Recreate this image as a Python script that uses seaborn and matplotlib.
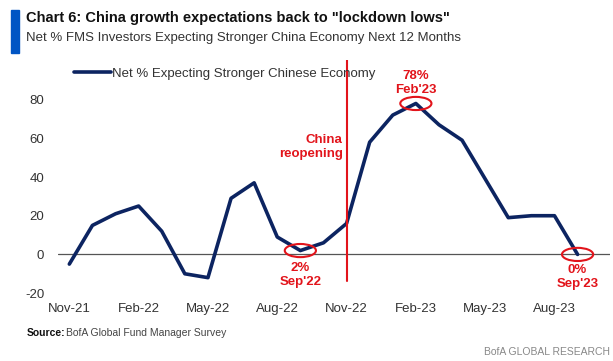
import numpy as np
import pandas as pd
import matplotlib.pyplot as plt
import seaborn as sns
from matplotlib.patches import Ellipse, Rectangle

# Data (monthly, Nov-21 .. Sep-23)
months = ['Nov-21', 'Dec-21', 'Jan-22', 'Feb-22', 'Mar-22', 'Apr-22', 'May-22', 'Jun-22',
          'Jul-22', 'Aug-22', 'Sep-22', 'Oct-22', 'Nov-22', 'Dec-22', 'Jan-23', 'Feb-23',
          'Mar-23', 'Apr-23', 'May-23', 'Jun-23', 'Jul-23', 'Aug-23', 'Sep-23']
net_pct = [-5, 15, 21, 25, 12, -10, -12, 29, 37, 9, 2, 6, 16, 58, 72, 78,
           67, 59, 39, 19, 20, 20, 0]
tick_labels = ['Nov-21', 'Feb-22', 'May-22', 'Aug-22', 'Nov-22', 'Feb-23', 'May-23', 'Aug-23']

df = pd.DataFrame({'month': months, 'pos': range(len(months)), 'value': net_pct})

navy = '#0C2461'
red = '#E2141B'

sns.set_style('white')
plt.rcParams['font.family'] = ['Liberation Sans', 'DejaVu Sans']
plt.rcParams['axes.unicode_minus'] = False

fig = plt.figure(figsize=(6.13, 3.61), dpi=100)
ax = fig.add_axes([0.095, 0.188, 0.9, 0.646])

sns.lineplot(data=df, x='pos', y='value', ax=ax, color=navy, linewidth=2.6,
             label='Net % Expecting Stronger Chinese Economy')

ax.axhline(0, color='#555555', linewidth=0.9, zorder=1)
ax.set_xlim(-0.48, 23.4)
ax.set_ylim(-20, 100.5)
ax.set_yticks([-20, 0, 20, 40, 60, 80])
ax.set_xticks([months.index(m) for m in tick_labels])
ax.set_xticklabels(tick_labels)
ax.tick_params(axis='both', labelsize=9.5, colors='#333333', length=0)
ax.tick_params(axis='x', pad=7)
ax.tick_params(axis='y', pad=10)
ax.set_xlabel('')
ax.set_ylabel('')
for s in ax.spines.values():
    s.set_visible(False)

leg = ax.legend(loc='center left', bbox_to_anchor=(0.012, 0.942), frameon=False,
                fontsize=9.5, handlelength=2.8, handletextpad=0.1, borderaxespad=0.3)
for t in leg.get_texts():
    t.set_color('#333333')

# China reopening marker
nov22 = months.index('Nov-22')
ax.axvline(nov22, ymin=0.05, ymax=1.0, color=red, linewidth=1.5)
ax.text(nov22 - 0.17, 55.5, 'China\nreopening', color=red, ha='right', va='center',
        fontsize=9.5, fontweight='bold', linespacing=1.2)

# Circled points with labels (label offset in data units)
marks = [('Sep-22', "2%\nSep'22", -6.0), ('Feb-23', "78%\nFeb'23", 3.8),
         ('Sep-23', "0%\nSep'23", -5.2)]
for m, txt, off in marks:
    i = months.index(m)
    v = net_pct[i]
    ax.add_patch(Ellipse((i, v), 1.35, 6.8, fill=False, edgecolor=red, linewidth=1.5,
                         zorder=4, clip_on=False))
    ax.text(i, v + off, txt, color=red, ha='center', va='bottom' if off > 0 else 'top',
            fontsize=9.5, fontweight='bold', linespacing=1.2)

# Header
fig.add_artist(Rectangle((0.018, 0.853), 0.013, 0.119, transform=fig.transFigure,
                         color='#0055C4'))
fig.text(0.042, 0.951, 'Chart 6: China growth expectations back to "lockdown lows"',
         fontsize=10.5, fontweight='bold', color='#111111', va='center')
fig.text(0.042, 0.896, 'Net % FMS Investors Expecting Stronger China Economy Next 12 Months',
         fontsize=9.5, color='#333333', va='center')

# Footer
fig.text(0.044, 0.078, 'Source:', fontsize=7.5, fontweight='bold', color='#111111', va='center')
fig.text(0.108, 0.078, 'BofA Global Fund Manager Survey', fontsize=7.5, color='#444444',
         va='center')
fig.text(0.995, 0.024, 'BofA GLOBAL RESEARCH', fontsize=7.5, color='#888888', ha='right',
         va='center')

fig.savefig('out.png', dpi=100)
